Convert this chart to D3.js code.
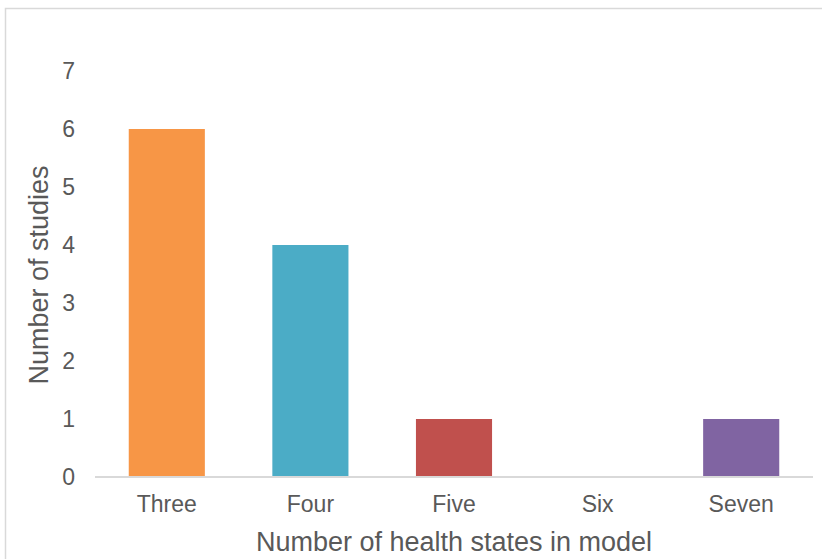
<!DOCTYPE html>
<html>
<head>
<meta charset="utf-8">
<script src="https://cdn.jsdelivr.net/npm/d3@7/dist/d3.min.js"></script>
<style>
  html, body { margin: 0; padding: 0; background: #fff; }
  svg { display: block; font-family: "Liberation Sans", Arial, sans-serif; }
</style>
</head>
<body>
<svg id="chart" width="822" height="559"></svg>
<script>
// Number of studies by the count of health states in the model
const categories = ["Three", "Four", "Five", "Six", "Seven"];
const studies = [6, 4, 1, 0, 1];
const barColors = ["#F79646", "#4BACC6", "#C0504D", "#9BBB59", "#8064A2"];
const yTicks = [0, 1, 2, 3, 4, 5, 6, 7];

const svg = d3.select("#chart");
const W = 822, H = 559;
const plot = { left: 95, right: 813, top: 71, bottom: 477 };
const textColor = "#595959";

// outer chart frame
svg.append("rect")
  .attr("x", 5.5).attr("y", 8.5)
  .attr("width", W + 10).attr("height", H + 10)
  .attr("fill", "#fff").attr("stroke", "#D9D9D9").attr("stroke-width", 1.5);

const x = d3.scaleBand()
  .domain(categories)
  .range([plot.left, plot.right])
  .paddingInner(0.47)
  .paddingOuter(0.235);

const y = d3.scaleLinear()
  .domain([0, 7])
  .range([plot.bottom, plot.top]);

// bars
svg.append("g").selectAll("rect")
  .data(categories)
  .join("rect")
  .attr("x", d => x(d))
  .attr("width", x.bandwidth())
  .attr("y", (d, i) => y(studies[i]))
  .attr("height", (d, i) => y(0) - y(studies[i]))
  .attr("fill", (d, i) => barColors[i]);

// y axis (labels only)
const yAxis = svg.append("g")
  .attr("transform", `translate(${plot.left - 20},0)`)
  .call(d3.axisLeft(y).tickValues(yTicks).tickFormat(d3.format("d")).tickSize(0).tickPadding(0));
yAxis.select(".domain").remove();
yAxis.selectAll("text")
  .attr("fill", textColor).style("font-size", "23px");

// x axis
const xAxis = svg.append("g")
  .attr("transform", `translate(0,${plot.bottom})`)
  .call(d3.axisBottom(x).tickSize(0).tickPadding(19));
xAxis.select(".domain")
  .attr("stroke", "#D9D9D9").attr("stroke-width", 2)
  .attr("d", `M${plot.left},0H${plot.right}`);
xAxis.selectAll("text")
  .attr("fill", textColor).style("font-size", "23px");

// axis titles
svg.append("text")
  .attr("transform", `translate(48,${(plot.top + plot.bottom) / 2 + 1}) rotate(-90)`)
  .attr("text-anchor", "middle")
  .attr("fill", textColor)
  .style("font-size", "27px")
  .text("Number of studies");

svg.append("text")
  .attr("x", (plot.left + plot.right) / 2)
  .attr("y", 551)
  .attr("text-anchor", "middle")
  .attr("fill", textColor)
  .style("font-size", "27px")
  .text("Number of health states in model");
</script>
</body>
</html>
